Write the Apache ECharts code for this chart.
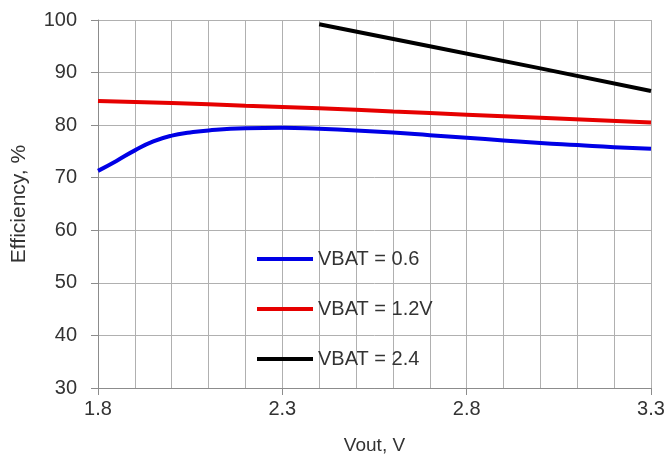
<!DOCTYPE html>
<html>
<head>
<meta charset="utf-8">
<script src="https://cdn.jsdelivr.net/npm/echarts@6/dist/echarts.min.js"></script>
<style>html,body{margin:0;padding:0;background:#fff}#c{width:668px;height:459px}</style>
</head>
<body>
<div id="c"></div>
<script>
var xTickLabels = [1.8, 2.3, 2.8, 3.3];
var blueX = [1.8, 1.85, 1.9, 1.95, 2.0, 2.05, 2.1, 2.2, 2.3, 2.4, 2.5, 2.6, 2.7, 2.8, 2.9, 3.0, 3.1, 3.2, 3.3];
var blueY = [71.3, 73.2, 75.2, 76.9, 78.0, 78.6, 79.0, 79.4, 79.5, 79.3, 79.0, 78.6, 78.1, 77.6, 77.1, 76.6, 76.2, 75.8, 75.5];
var redX = [1.8, 2.0, 2.2, 2.4, 2.6, 2.8, 3.0, 3.3];
var redY = [84.6, 84.2, 83.7, 83.2, 82.6, 82.0, 81.4, 80.5];
var blackX = [2.4, 2.7, 3.0, 3.3];
var blackY = [99.2, 95.0, 90.8, 86.5];
var seriesNames = ['VBAT = 0.6', 'VBAT = 1.2V', 'VBAT = 2.4'];

function pairs(xs, ys){ return xs.map(function(x,i){ return [x, ys[i]]; }); }

var font = 'Liberation Sans, Arial, sans-serif';
var axisColor = '#8c8c8c';
var gridColor = '#b0b0b0';
var chart = echarts.init(document.getElementById('c'));
chart.setOption({
  animation: false,
  backgroundColor: '#fff',
  grid: { left: 98, right: 17, top: 20, bottom: 71, containLabel: false, outerBoundsMode: 'none' },
  legend: {
    orient: 'vertical',
    left: 257, top: 249, padding: 0,
    icon: 'rect',
    itemWidth: 56, itemHeight: 4, itemGap: 30,
    textStyle: { fontFamily: font, fontSize: 20, color: '#333', lineHeight: 20 },
    data: seriesNames
  },
  xAxis: [{
    type: 'value', min: 1.8, max: 3.3, interval: 0.1,
    axisLine: { show: true, lineStyle: { color: axisColor, width: 1 } },
    axisTick: { show: false },
    axisLabel: { show: false },
    splitLine: { show: true, lineStyle: { color: gridColor, width: 1 } }
  }, {
    type: 'value', min: 1.8, max: 3.3, position: 'bottom', offset: 0,
    name: 'Vout, V', nameLocation: 'middle', nameGap: 48,
    nameTextStyle: { fontFamily: font, fontSize: 19, color: '#333' },
    axisLine: { show: true, lineStyle: { color: axisColor, width: 1 } },
    axisTick: { show: true, length: 7, customValues: xTickLabels, lineStyle: { color: axisColor } },
    axisLabel: { customValues: xTickLabels, margin: 11, fontFamily: font, fontSize: 20, color: '#333',
      formatter: function(v){ return v.toFixed(1); } },
    splitLine: { show: false }
  }],
  yAxis: {
    type: 'value', min: 30, max: 100, interval: 10,
    name: 'Efficiency, %', nameLocation: 'middle', nameGap: 68, nameRotate: 90,
    nameTextStyle: { fontFamily: font, fontSize: 21, color: '#333' },
    axisLine: { show: true, lineStyle: { color: axisColor, width: 1 } },
    axisTick: { show: true, length: 7, lineStyle: { color: axisColor } },
    axisLabel: { margin: 21, fontFamily: font, fontSize: 20, color: '#333' },
    splitLine: { show: true, lineStyle: { color: gridColor, width: 1 } }
  },
  series: [
    { name: seriesNames[0], type: 'line', xAxisIndex: 0, smooth: true, symbol: 'none', data: pairs(blueX, blueY),
      lineStyle: { color: '#0000e6', width: 4 }, itemStyle: { color: '#0000e6' } },
    { name: seriesNames[1], type: 'line', xAxisIndex: 0, smooth: true, symbol: 'none', data: pairs(redX, redY),
      lineStyle: { color: '#e60000', width: 4 }, itemStyle: { color: '#e60000' } },
    { name: seriesNames[2], type: 'line', xAxisIndex: 0, smooth: false, symbol: 'none', data: pairs(blackX, blackY),
      lineStyle: { color: '#000000', width: 4 }, itemStyle: { color: '#000000' } }
  ]
});
</script>
</body>
</html>
